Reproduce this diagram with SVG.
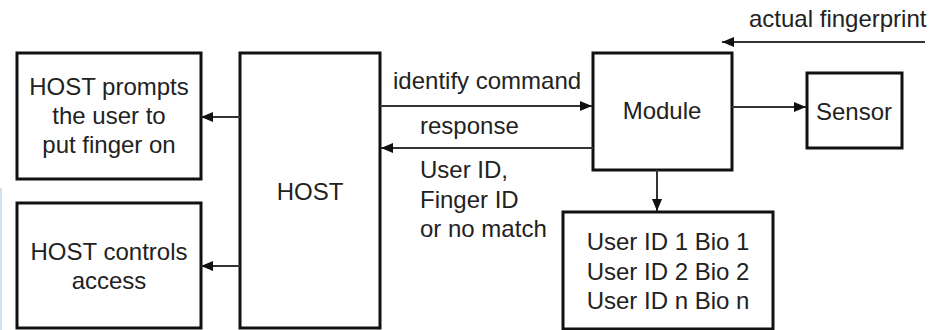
<svg xmlns="http://www.w3.org/2000/svg" width="934" height="330" viewBox="0 0 934 330">
<style>
.box{fill:#fff;stroke:#111;stroke-width:3}
.t{font-family:"Liberation Sans",Arial,sans-serif;font-size:24px;fill:#222}
.c{text-anchor:middle}
.ln{stroke:#333;stroke-width:2;fill:none;marker-end:url(#ah)}
</style>
<defs>
<marker id="ah" viewBox="0 0 12 10" refX="12" refY="5" markerWidth="12" markerHeight="10" markerUnits="userSpaceOnUse" orient="auto">
<path d="M0,0 L12,5 L0,10 Z" fill="#111"/>
</marker>
</defs>
<rect width="934" height="330" fill="#fff"/>
<rect x="0" y="188" width="2" height="142" fill="#d3e1ec"/>
<g id="prompt">
<rect class="box" x="17" y="53" width="184" height="126"/>
<text class="t c" x="109" y="95">HOST prompts</text>
<text class="t c" x="109" y="124">the user to</text>
<text class="t c" x="109" y="153">put finger on</text>
</g>
<g id="access">
<rect class="box" x="17" y="203" width="184" height="125"/>
<text class="t c" x="109" y="260">HOST controls</text>
<text class="t c" x="109" y="289">access</text>
</g>
<g id="host">
<rect class="box" x="240" y="53" width="140" height="275"/>
<text class="t c" x="310" y="200">HOST</text>
</g>
<g id="module">
<rect class="box" x="593" y="53" width="139" height="117"/>
<text class="t c" x="662" y="119">Module</text>
</g>
<g id="sensor">
<rect class="box" x="807" y="73" width="95" height="75"/>
<text class="t c" x="854" y="120">Sensor</text>
</g>
<g id="db">
<rect class="box" x="563" y="212" width="210" height="117"/>
<text class="t c" x="668" y="250">User ID 1 Bio 1</text>
<text class="t c" x="668" y="280">User ID 2 Bio 2</text>
<text class="t c" x="668" y="309">User ID n Bio n</text>
</g>
<g id="connectors">
<line class="ln" x1="240" y1="117" x2="201" y2="117"/>
<line class="ln" x1="240" y1="266" x2="201" y2="266"/>
<line class="ln" x1="380" y1="106" x2="592" y2="106"/>
<line class="ln" x1="593" y1="148" x2="381" y2="148"/>
<line class="ln" x1="732" y1="107" x2="806" y2="107"/>
<line class="ln" x1="657" y1="170" x2="657" y2="211"/>
<line class="ln" x1="925" y1="42" x2="722" y2="42"/>
<text class="t" x="393" y="89">identify command</text>
<text class="t" x="420" y="134">response</text>
<text class="t" x="420" y="178">User ID,</text>
<text class="t" x="420" y="208">Finger ID</text>
<text class="t" x="420" y="237">or no match</text>
<text class="t" x="749" y="27">actual fingerprint</text>
</g>
</svg>
